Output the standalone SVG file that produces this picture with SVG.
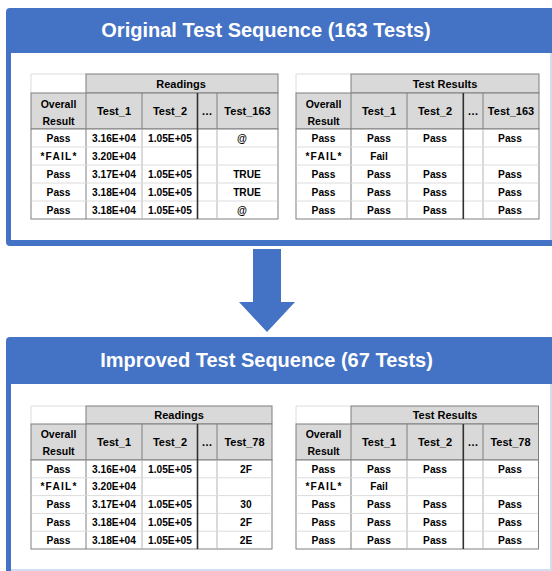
<svg xmlns="http://www.w3.org/2000/svg" width="552" height="571" viewBox="0 0 552 571">
<style>
.t{font-family:"Liberation Sans",Arial,sans-serif;font-weight:bold;text-anchor:middle;fill:#000}
.h{font-size:11px}
.o{font-size:10.5px}
.d{font-size:10.2px}
.f{font-size:10.2px;letter-spacing:1.2px}
.title{font-family:"Liberation Sans",Arial,sans-serif;font-weight:bold;font-size:20px;text-anchor:middle;fill:#fff}
.hd{fill:#d9d9d9;stroke:#7f7f7f;stroke-width:1}
.body{fill:#fff;stroke:#7f7f7f;stroke-width:1}
.dk{stroke:#7f7f7f;stroke-width:1}
.md{stroke:#b4b4b4;stroke-width:1}
.lt{stroke:#dcdcdc;stroke-width:1}
.thk{stroke:#303030;stroke-width:1.6}
.blue{fill:#4472c4}
</style>
<rect width="552" height="571" fill="#fff"/>

<g id="panel-original">
<rect class="blue" x="6" y="8" width="560" height="238" rx="4"/>
<rect x="11" y="53" width="539" height="187" fill="#fff"/>
<rect x="550" y="53" width="2" height="187" fill="#d3ddf0"/>
<text class="title" x="266" y="37">Original Test Sequence (163 Tests)</text>

<g id="table-original-readings">
<line class="lt" x1="31" y1="74" x2="86" y2="74"/>
<line class="lt" x1="31" y1="74" x2="31" y2="93"/>
<rect class="hd" x="86" y="74" width="192" height="19"/>
<rect class="hd" x="31" y="93" width="247" height="36"/>
<rect class="body" x="31" y="129" width="247" height="90"/>
<line class="dk" x1="86" y1="93" x2="86" y2="219"/>
<line class="dk" x1="142" y1="93" x2="142" y2="129"/>
<line class="dk" x1="217" y1="93" x2="217" y2="129"/>
<line class="md" x1="142" y1="129.5" x2="142" y2="218.5"/>
<line class="md" x1="217" y1="129.5" x2="217" y2="218.5"/>
<line class="lt" x1="31.5" y1="147" x2="277.5" y2="147"/>
<line class="lt" x1="31.5" y1="165" x2="277.5" y2="165"/>
<line class="lt" x1="31.5" y1="183" x2="277.5" y2="183"/>
<line class="lt" x1="31.5" y1="201" x2="277.5" y2="201"/>
<line class="thk" x1="197.5" y1="93" x2="197.5" y2="219"/>
<text class="t h" x="181" y="88">Readings</text>
<text class="t o" x="58.5" y="107.5">Overall</text>
<text class="t o" x="58.5" y="124.5">Result</text>
<text class="t h" x="114" y="115">Test_1</text>
<text class="t h" x="170" y="115">Test_2</text>
<text class="t h" x="207" y="115">…</text>
<text class="t h" x="247.5" y="115">Test_163</text>
<text class="t d" x="58.5" y="142">Pass</text>
<text class="t f" x="59" y="160">*FAIL*</text>
<text class="t d" x="58.5" y="178">Pass</text>
<text class="t d" x="58.5" y="196">Pass</text>
<text class="t d" x="58.5" y="214">Pass</text>
<text class="t d" x="114" y="142">3.16E+04</text>
<text class="t d" x="114" y="160">3.20E+04</text>
<text class="t d" x="114" y="178">3.17E+04</text>
<text class="t d" x="114" y="196">3.18E+04</text>
<text class="t d" x="114" y="214">3.18E+04</text>
<text class="t d" x="170" y="142">1.05E+05</text>
<text class="t d" x="170" y="178">1.05E+05</text>
<text class="t d" x="170" y="196">1.05E+05</text>
<text class="t d" x="170" y="214">1.05E+05</text>
<text class="t d" x="242" y="142">@</text>
<text class="t d" x="247" y="178">TRUE</text>
<text class="t d" x="247" y="196">TRUE</text>
<text class="t d" x="242" y="214">@</text>
</g>

<g id="table-original-results">
<line class="lt" x1="296" y1="74" x2="351" y2="74"/>
<line class="lt" x1="296" y1="74" x2="296" y2="93"/>
<rect class="hd" x="351" y="74" width="188" height="19"/>
<rect class="hd" x="296" y="93" width="243" height="36"/>
<rect class="body" x="296" y="129" width="243" height="90"/>
<line class="dk" x1="351" y1="93" x2="351" y2="219"/>
<line class="dk" x1="407" y1="93" x2="407" y2="129"/>
<line class="dk" x1="483" y1="93" x2="483" y2="129"/>
<line class="md" x1="407" y1="129.5" x2="407" y2="218.5"/>
<line class="md" x1="483" y1="129.5" x2="483" y2="218.5"/>
<line class="lt" x1="296.5" y1="147" x2="538.5" y2="147"/>
<line class="lt" x1="296.5" y1="165" x2="538.5" y2="165"/>
<line class="lt" x1="296.5" y1="183" x2="538.5" y2="183"/>
<line class="lt" x1="296.5" y1="201" x2="538.5" y2="201"/>
<line class="thk" x1="463.3" y1="93" x2="463.3" y2="219"/>
<text class="t h" x="445" y="88">Test Results</text>
<text class="t o" x="323.5" y="107.5">Overall</text>
<text class="t o" x="323.5" y="124.5">Result</text>
<text class="t h" x="379" y="115">Test_1</text>
<text class="t h" x="435" y="115">Test_2</text>
<text class="t h" x="473" y="115">…</text>
<text class="t h" x="511" y="115">Test_163</text>
<text class="t d" x="323.5" y="142">Pass</text>
<text class="t f" x="324" y="160">*FAIL*</text>
<text class="t d" x="323.5" y="178">Pass</text>
<text class="t d" x="323.5" y="196">Pass</text>
<text class="t d" x="323.5" y="214">Pass</text>
<text class="t d" x="379" y="142">Pass</text>
<text class="t d" x="379" y="160">Fail</text>
<text class="t d" x="379" y="178">Pass</text>
<text class="t d" x="379" y="196">Pass</text>
<text class="t d" x="379" y="214">Pass</text>
<text class="t d" x="435" y="142">Pass</text>
<text class="t d" x="435" y="178">Pass</text>
<text class="t d" x="435" y="196">Pass</text>
<text class="t d" x="435" y="214">Pass</text>
<text class="t d" x="510" y="142">Pass</text>
<text class="t d" x="510" y="178">Pass</text>
<text class="t d" x="510" y="196">Pass</text>
<text class="t d" x="510" y="214">Pass</text>
</g>
</g>

<g id="connectors">
<polygon class="blue" points="253,249 281,249 281,302 295,302 267,332 239,302 253,302"/>
</g>

<g id="panel-improved">
<rect class="blue" x="6" y="337" width="560" height="250" rx="4"/>
<rect x="11" y="384" width="539" height="185" fill="#fff"/>
<rect x="550" y="384" width="2" height="187" fill="#d3ddf0"/>
<rect x="11" y="569" width="541" height="2" fill="#d3ddf0"/>
<text class="title" x="266.5" y="366.5">Improved Test Sequence (67 Tests)</text>

<g id="table-improved-readings">
<line class="lt" x1="31" y1="406" x2="86" y2="406"/>
<line class="lt" x1="31" y1="406" x2="31" y2="424"/>
<rect class="hd" x="86" y="406" width="186" height="18"/>
<rect class="hd" x="31" y="424" width="241" height="36"/>
<rect class="body" x="31" y="460" width="241" height="89"/>
<line class="dk" x1="86" y1="424" x2="86" y2="549"/>
<line class="dk" x1="142" y1="424" x2="142" y2="460"/>
<line class="dk" x1="217" y1="424" x2="217" y2="460"/>
<line class="md" x1="142" y1="460.5" x2="142" y2="548.5"/>
<line class="md" x1="217" y1="460.5" x2="217" y2="548.5"/>
<line class="lt" x1="31.5" y1="477.8" x2="271.5" y2="477.8"/>
<line class="lt" x1="31.5" y1="495.6" x2="271.5" y2="495.6"/>
<line class="lt" x1="31.5" y1="513.4" x2="271.5" y2="513.4"/>
<line class="lt" x1="31.5" y1="531.2" x2="271.5" y2="531.2"/>
<line class="thk" x1="197.5" y1="424" x2="197.5" y2="549"/>
<text class="t h" x="179" y="419">Readings</text>
<text class="t o" x="58.5" y="438">Overall</text>
<text class="t o" x="58.5" y="455">Result</text>
<text class="t h" x="114" y="445.5">Test_1</text>
<text class="t h" x="170" y="445.5">Test_2</text>
<text class="t h" x="207" y="445.5">…</text>
<text class="t h" x="244.5" y="445.5">Test_78</text>
<text class="t d" x="58.5" y="472.5">Pass</text>
<text class="t f" x="59" y="490.3">*FAIL*</text>
<text class="t d" x="58.5" y="508.1">Pass</text>
<text class="t d" x="58.5" y="525.9">Pass</text>
<text class="t d" x="58.5" y="543.7">Pass</text>
<text class="t d" x="114" y="472.5">3.16E+04</text>
<text class="t d" x="114" y="490.3">3.20E+04</text>
<text class="t d" x="114" y="508.1">3.17E+04</text>
<text class="t d" x="114" y="525.9">3.18E+04</text>
<text class="t d" x="114" y="543.7">3.18E+04</text>
<text class="t d" x="170" y="472.5">1.05E+05</text>
<text class="t d" x="170" y="508.1">1.05E+05</text>
<text class="t d" x="170" y="525.9">1.05E+05</text>
<text class="t d" x="170" y="543.7">1.05E+05</text>
<text class="t d" x="246" y="472.5">2F</text>
<text class="t d" x="246" y="508.1">30</text>
<text class="t d" x="246" y="525.9">2F</text>
<text class="t d" x="246" y="543.7">2E</text>
</g>

<g id="table-improved-results">
<line class="lt" x1="296" y1="406" x2="351" y2="406"/>
<line class="lt" x1="296" y1="406" x2="296" y2="424"/>
<rect class="hd" x="351" y="406" width="187.5" height="18"/>
<rect class="hd" x="296" y="424" width="242.5" height="36"/>
<rect class="body" x="296" y="460" width="242.5" height="89"/>
<line class="dk" x1="351" y1="424" x2="351" y2="549"/>
<line class="dk" x1="407" y1="424" x2="407" y2="460"/>
<line class="dk" x1="483" y1="424" x2="483" y2="460"/>
<line class="md" x1="407" y1="460.5" x2="407" y2="548.5"/>
<line class="md" x1="483" y1="460.5" x2="483" y2="548.5"/>
<line class="lt" x1="296.5" y1="477.8" x2="538" y2="477.8"/>
<line class="lt" x1="296.5" y1="495.6" x2="538" y2="495.6"/>
<line class="lt" x1="296.5" y1="513.4" x2="538" y2="513.4"/>
<line class="lt" x1="296.5" y1="531.2" x2="538" y2="531.2"/>
<line class="thk" x1="463.3" y1="424" x2="463.3" y2="549"/>
<text class="t h" x="445" y="419">Test Results</text>
<text class="t o" x="323.5" y="438">Overall</text>
<text class="t o" x="323.5" y="455">Result</text>
<text class="t h" x="379" y="445.5">Test_1</text>
<text class="t h" x="435" y="445.5">Test_2</text>
<text class="t h" x="473" y="445.5">…</text>
<text class="t h" x="510.5" y="445.5">Test_78</text>
<text class="t d" x="323.5" y="472.5">Pass</text>
<text class="t f" x="324" y="490.3">*FAIL*</text>
<text class="t d" x="323.5" y="508.1">Pass</text>
<text class="t d" x="323.5" y="525.9">Pass</text>
<text class="t d" x="323.5" y="543.7">Pass</text>
<text class="t d" x="379" y="472.5">Pass</text>
<text class="t d" x="379" y="490.3">Fail</text>
<text class="t d" x="379" y="508.1">Pass</text>
<text class="t d" x="379" y="525.9">Pass</text>
<text class="t d" x="379" y="543.7">Pass</text>
<text class="t d" x="435" y="472.5">Pass</text>
<text class="t d" x="435" y="508.1">Pass</text>
<text class="t d" x="435" y="525.9">Pass</text>
<text class="t d" x="435" y="543.7">Pass</text>
<text class="t d" x="510" y="472.5">Pass</text>
<text class="t d" x="510" y="508.1">Pass</text>
<text class="t d" x="510" y="525.9">Pass</text>
<text class="t d" x="510" y="543.7">Pass</text>
</g>
</g>
</svg>
